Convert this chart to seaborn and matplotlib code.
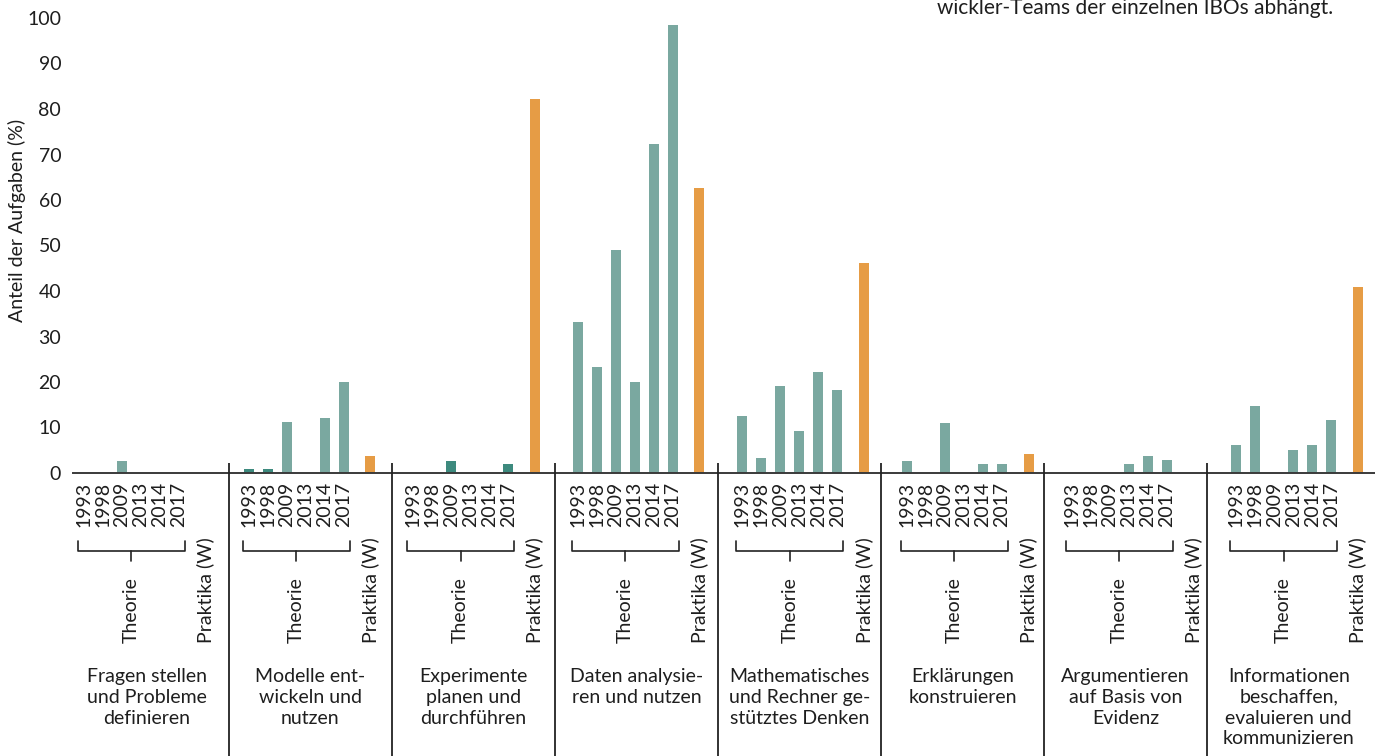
import numpy as np
import pandas as pd
import matplotlib
matplotlib.use("Agg")
import matplotlib.pyplot as plt
import seaborn as sns

# --- DATA ---

years = ["1993", "1998", "2009", "2013", "2014", "2017"]
categories = [
    "Fragen stellen\nund Probleme\ndefinieren",
    "Modelle ent-\nwickeln und\nnutzen",
    "Experimente\nplanen und\ndurchführen",
    "Daten analysie-\nren und nutzen",
    "Mathematisches\nund Rechner ge-\nstütztes Denken",
    "Erklärungen\nkonstruieren",
    "Argumentieren\nauf Basis von\nEvidenz",
    "Informationen\nbeschaffen,\nevaluieren und\nkommunizieren",
]
# Anteil der Aufgaben (%) je Jahr (Theorie)
theorie = [
    [0, 0, 2.6, 0, 0, 0],
    [0.9, 0.9, 11.2, 0, 12.1, 20.0],
    [0, 0, 2.6, 0, 0, 2.0],
    [33.2, 23.3, 49.0, 20.0, 72.3, 98.5],
    [12.5, 3.3, 19.1, 9.2, 22.2, 18.2],
    [2.6, 0, 11.0, 0, 2.0, 2.0],
    [0, 0, 0, 2.0, 3.7, 2.9],
    [6.2, 14.7, 0, 5.1, 6.2, 11.6],
]
# Praktika (W)
praktika = [0, 3.7, 82.2, 62.6, 46.1, 4.2, 0, 40.9]
# Theorie-Balken, die dunkler eingefärbt sind (Gruppe, Jahr)
dunkel = [(1, "1993"), (1, "1998"), (2, "2009"), (2, "2017")]

top_note = "wickler-Teams der einzelnen IBOs abhängt."
y_label = "Anteil der Aufgaben (%)"

# --- LAYOUT (in Pixeln, x-Daten der Achse = Pixel) ---

W, H, DPI = 1375, 756, 100
AX_LEFT = 73
Y0_PX, Y100_PX = 473, 18
BAR0, BAR_STEP, YEAR_STEP, PRAK_GAP = 84, 164.6, 19, 26.5
SEP0, SEP_STEP = 228.6, 163.1
GROUP0 = SEP0 - SEP_STEP

COLORS = {"Theorie": "#7aa8a0", "Theorie_dunkel": "#3d8a7e", "Praktika": "#e69c45"}
INK = "#1e1e1e"
FS = 14


def year_x(g, i):
    return BAR0 + g * BAR_STEP + i * YEAR_STEP


def prak_x(g):
    return year_x(g, len(years) - 1) + PRAK_GAP


def main():
    rows = []
    for g, vals in enumerate(theorie):
        for i, (yr, v) in enumerate(zip(years, vals)):
            kind = "Theorie_dunkel" if (g, yr) in dunkel else "Theorie"
            rows.append({"x": year_x(g, i), "wert": v, "art": kind})
        rows.append({"x": prak_x(g), "wert": praktika[g], "art": "Praktika"})
    df = pd.DataFrame(rows)

    sns.set_style("white")
    plt.rcParams["font.family"] = ["Lato", "DejaVu Sans"]

    fig = plt.figure(figsize=(W / DPI, H / DPI), dpi=DPI)
    ax = fig.add_axes([AX_LEFT / W, 1 - Y0_PX / H, 1 - AX_LEFT / W, (Y0_PX - Y100_PX) / H])
    ax.patch.set_alpha(0)

    sns.barplot(data=df, x="x", y="wert", hue="art", palette=COLORS, native_scale=True,
                dodge=False, width=10 / YEAR_STEP, linewidth=0, errorbar=None,
                saturation=1, legend=False, ax=ax)

    ax.set_xlim(AX_LEFT, W)
    ax.set_ylim(0, 100)
    ax.set_xticks([])
    ax.set_yticks(range(0, 101, 10))
    ax.set_xlabel("")
    ax.set_ylabel("")
    ax.tick_params(axis="y", length=0, pad=8.5, labelsize=FS, labelcolor=INK)
    sns.despine(ax=ax, left=True)
    ax.spines["bottom"].set(color="#3a3a3a", linewidth=1.4)

    # overlay in pixel coordinates for labels below the axis
    ov = fig.add_axes([0, 0, 1, 1])
    ov.set_xlim(0, W)
    ov.set_ylim(H, 0)
    ov.axis("off")

    for k in range(len(categories) - 1):
        x = SEP0 + k * SEP_STEP
        ov.plot([x, x], [Y0_PX - 10, H], color="#222222", lw=1.3, solid_capstyle="butt")

    for g, name in enumerate(categories):
        xs = [year_x(g, i) for i in range(len(years))]
        for x, yr in zip(xs, years):
            ov.text(x, 482, yr, rotation=90, ha="center", va="top", fontsize=FS, color=INK)
        left, right = xs[0] - 6, xs[-1] + 6
        mid = (left + right) / 2
        ov.plot([left, left, right, right], [541, 551, 551, 541], color="#222222", lw=1.2)
        ov.plot([mid, mid], [551, 561], color="#222222", lw=1.2)
        ov.text(mid, 643, "Theorie", rotation=90, ha="center", va="bottom", fontsize=FS, color=INK)
        ov.text(prak_x(g), 643, "Praktika (W)", rotation=90, ha="center", va="bottom",
                fontsize=FS, color=INK)
        cx = GROUP0 + g * SEP_STEP + SEP_STEP / 2
        ov.text(cx, 668, name, ha="center", va="top", fontsize=FS, color=INK,
                linespacing=1.27, multialignment="center")

    ov.text(17, 220, y_label, rotation=90, ha="center", va="center", fontsize=FS, color=INK)
    ov.text(1333, 14, top_note, ha="right", va="baseline", fontsize=15, color=INK)

    fig.savefig("out.png", dpi=DPI)
    plt.close(fig)


if __name__ == "__main__":
    main()
